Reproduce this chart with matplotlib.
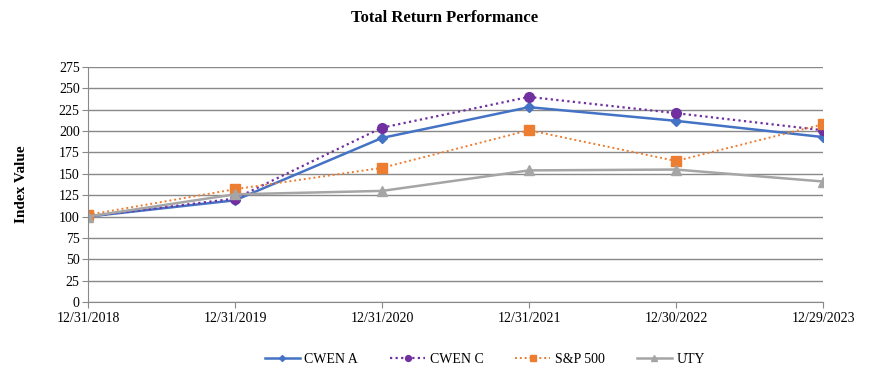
import matplotlib
matplotlib.use("Agg")
from matplotlib import pyplot as plt

datas = ["12/31/2018", "12/31/2019", "12/31/2020", "12/31/2021", "12/30/2022", "12/29/2023"]
cwen_a = [100, 119, 192, 228, 212, 193]
cwen_c = [100, 121, 204, 240, 221, 201]
sp500 = [102, 132, 157, 201, 165, 208]
uty = [100, 126, 130, 154, 155, 141]
yticks = list(range(0, 276, 25))

plt.rcParams["font.family"] = ["Liberation Serif", "DejaVu Serif"]

fig = plt.figure(figsize=(8.89, 3.88), dpi=100)
ax = fig.add_axes([88 / 889, 1 - 302 / 388, (823 - 88) / 889, (302 - 67) / 388])

x = list(range(len(datas)))
ax.plot(x, cwen_a, color="#4472C4", linewidth=1.8, marker="D", markersize=5, label="CWEN A")
ax.plot(x, cwen_c, color="#7030A0", linewidth=1.6, linestyle=(0, (1, 1.5)), marker="o", markersize=7, label="CWEN C")
ax.plot(x, sp500, color="#ED7D31", linewidth=1.4, linestyle=(0, (1, 1.5)), marker="s", markersize=7, label="S&P 500")
ax.plot(x, uty, color="#A5A5A5", linewidth=1.8, marker="^", markersize=7, label="UTY")

ax.set_xlim(0, len(datas) - 1)
ax.set_ylim(0, 275)
ax.set_yticks(yticks)
ax.set_xticks(x)
ax.set_xticklabels(datas)
ax.grid(True, axis="y", color="#898989", linewidth=1)
ax.set_axisbelow(True)
for lado in ["top", "right"]:
    ax.spines[lado].set_visible(False)
ax.spines["left"].set_color("#898989")
ax.spines["bottom"].set_color("#898989")
ax.tick_params(axis="y", length=4, color="#898989", labelsize=10, pad=2)
ax.tick_params(axis="x", length=4, color="#898989", labelsize=10, pad=3)

ax.set_ylabel("Index Value", fontsize=11, fontweight="bold", labelpad=22)
fig.text(0.5, 1 - 18 / 388, "Total Return Performance", ha="center", va="center", fontsize=12, fontweight="bold")

ax.legend(loc="center", bbox_to_anchor=(0.54, -0.245), ncol=4, frameon=False, fontsize=10,
          handlelength=2.5, handletextpad=0.35, columnspacing=2.3, markerscale=0.6)

fig.savefig("out.png", dpi=100)
